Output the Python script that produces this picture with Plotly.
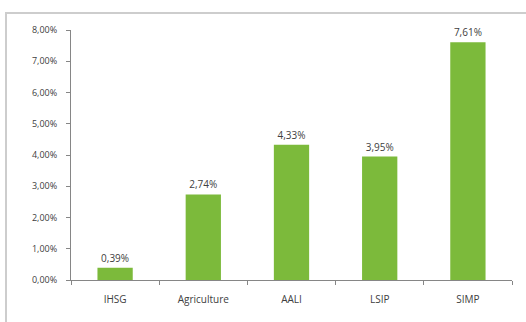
import plotly.graph_objects as go

categories = ["IHSG", "Agriculture", "AALI", "LSIP", "SIMP"]
values = [0.0039, 0.0274, 0.0433, 0.0395, 0.0761]
value_labels = ["0,39%", "2,74%", "4,33%", "3,95%", "7,61%"]
y_ticks = [0, 0.01, 0.02, 0.03, 0.04, 0.05, 0.06, 0.07, 0.08]

W, H = 526, 322
ml, mr, mt, mb = 71, 14, 30, 42

fig = go.Figure(go.Bar(
    x=categories, y=values, text=value_labels, textposition="outside",
    textfont=dict(size=10, color="#404040"),
    marker=dict(color="#7CBA3B", line=dict(width=0)),
    cliponaxis=False,
))

fig.update_layout(
    width=W, height=H, margin=dict(l=ml, r=mr, t=mt, b=mb),
    paper_bgcolor="white", plot_bgcolor="white",
    separators=",.",
    font=dict(family="Open Sans, Liberation Sans, sans-serif", size=9, color="#404040"),
    bargap=0.6, showlegend=False,
    xaxis=dict(showline=True, linecolor="#868686", linewidth=1,
               ticks="outside", tickson="boundaries", ticklen=4, tickcolor="#868686",
               tickfont=dict(size=10), showgrid=False, ticklabelstandoff=10),
    yaxis=dict(range=[0, 0.08], tickvals=y_ticks, tickformat=".2%",
               showline=True, linecolor="#868686", linewidth=1,
               ticks="outside", ticklen=4, tickcolor="#868686",
               showgrid=False, zeroline=False, tickfont=dict(size=9),
               ticklabelstandoff=7),
)

# outer chart frame
x0 = (6 - ml) / (W - ml - mr)
x1 = (530 - ml) / (W - ml - mr)
ph = H - mt - mb
y1 = (H - mb - 13) / ph
y0 = (H - mb - 330) / ph
fig.add_shape(type="rect", xref="paper", yref="paper", x0=x0, x1=x1, y0=y0, y1=y1,
              line=dict(color="#CDCDCD", width=2), layer="below")

fig.write_html("out.html")
